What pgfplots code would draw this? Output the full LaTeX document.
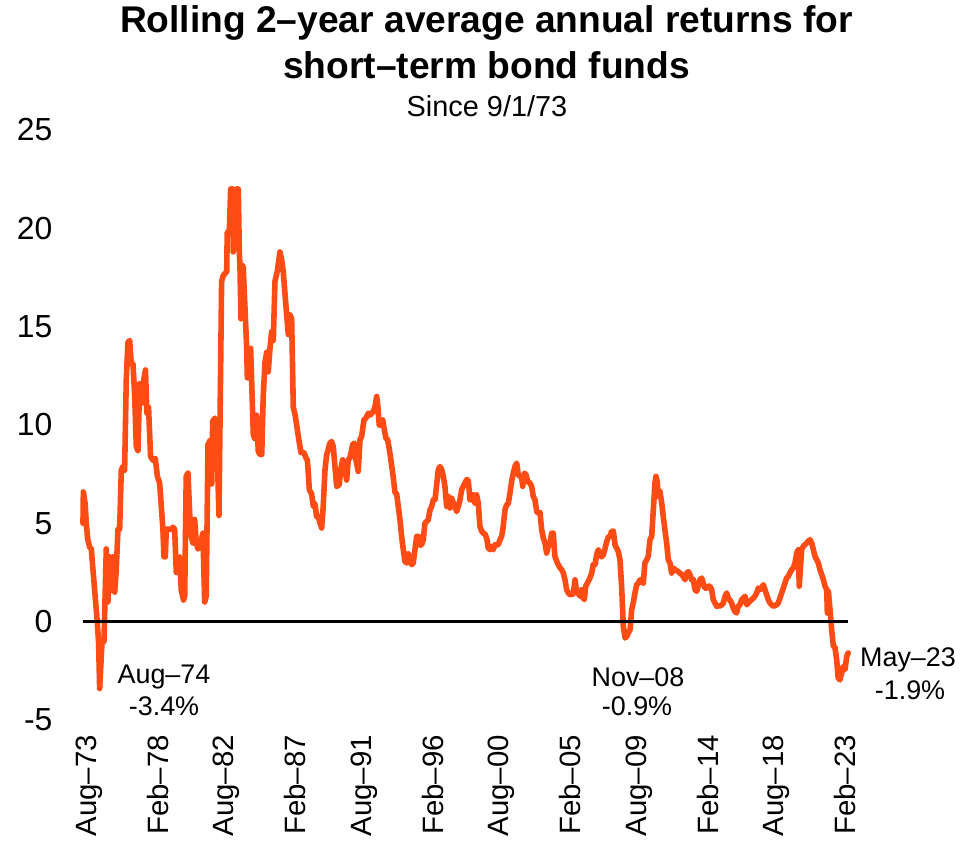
\documentclass[border=0pt]{standalone}
\usepackage{fontspec}
\setmainfont{Liberation Sans}
\usepackage{pgfplots}
\pgfplotsset{compat=1.18}
\definecolor{br}{RGB}{255,75,20}
\begin{document}
\begin{tikzpicture}
\begin{axis}[
 scale only axis, width=766.4bp, height=590bp,
 xmin=-5, xmax=597, ymin=-5, ymax=25,
 axis line style={draw=none}, major tick length=0pt,
 xtick={0,54,108,162,216,270,324,378,432,486,540,594},
 xticklabels={Aug--73,Feb--78,Aug--82,Feb--87,Aug--91,Feb--96,Aug--00,Feb--05,Aug--09,Feb--14,Aug--18,Feb--23},
 ytick={-5,0,5,10,15,20,25}, yticklabels={-5,0,5,10,15,20,25},
 xticklabel style={rotate=90, anchor=east, inner sep=0pt, font=\fontsize{29.5}{32}\selectfont},
 yticklabel style={anchor=east, inner sep=0pt, font=\fontsize{32}{34}\selectfont},
 xticklabel shift=15bp, yticklabel shift=30bp,
 clip=false,
]
\addplot[br, line width=5.6bp, line join=round, line cap=round] coordinates {
(-4.7,5.0) (-4.4,6.6) (-3.0,6.0) (-2.1,5.0) (-1.0,4.2) (0.5,3.8) (1.8,3.7) (6.5,0.0) (7.6,-1.1) (8.4,-3.4) (10.2,-1.1) (11.8,-1.0) (13.6,3.7) (14.9,1.0) (16.3,3.3) (17.5,1.6) (18.9,3.3) (20.2,1.5) (21.4,2.6) (22.8,4.7) (24.1,4.7) (25.4,7.7) (26.7,7.9) (28.0,7.7) (29.3,12.3) (30.6,14.2) (32.0,14.3) (33.2,13.1) (34.6,13.1) (35.9,11.5) (37.2,8.9) (38.5,8.7) (39.8,12.1) (41.1,11.1) (42.4,12.0) (43.8,12.6) (44.4,12.8) (45.5,10.6) (46.8,10.9) (48.4,8.4) (50.3,8.2) (52.1,8.3) (53.7,7.4) (55.5,7.05) (56.8,5.9) (58.1,4.7) (58.9,3.3) (60.0,3.3) (60.7,4.7) (64.6,4.7) (66.0,4.8) (67.3,4.7) (68.6,2.5) (69.9,3.2) (71.2,3.3) (72.5,1.6) (74.3,1.1) (75.2,1.3) (76.4,7.4) (77.8,7.55) (79.1,5.5) (80.4,4.3) (81.7,4.0) (83.0,5.2) (84.3,4.0) (85.6,3.7) (87.0,3.8) (89.5,4.5) (90.9,1.0) (92.1,1.3) (93.5,9.0)
(95.0,9.2) (96.4,7.0) (97.2,10.2) (99.0,10.35) (100.3,9.9) (101.6,6.6) (102.1,5.4) (104.2,17.3) (105.5,17.6) (108.2,17.8) (108.6,19.8) (110.2,19.7) (111.3,22.0) (112.9,22.0) (113.3,18.8) (114.5,19.3) (116.0,22.0) (117.3,22.0) (118.1,18.8) (118.6,18.1) (119.4,15.4) (120.7,18.1) (121.2,18.0) (123.9,13.9) (124.4,12.4) (125.7,12.4) (127.0,13.9) (129.1,9.5) (130.4,9.3) (131.7,10.5) (133.0,8.65) (134.3,8.5) (135.7,8.5) (136.9,11.5) (138.3,13.2) (139.6,13.7) (140.8,12.7) (142.2,13.9) (143.5,14.75) (144.8,14.3) (146.1,17.3) (147.9,17.8) (150.0,18.8) (151.4,18.4) (152.6,17.8) (155.3,15.6) (156.6,14.6) (157.9,15.6) (159.2,15.4) (160.5,10.9) (162.0,10.5) (164.5,9.4) (166.5,8.6) (168.9,8.6)
(170.5,8.32) (171.5,8.23) (172.3,7.55) (173.1,6.7) (174.9,6.5) (176.2,5.86) (177.5,6.0) (178.8,5.35) (180.1,5.35) (181.5,5.01) (182.8,4.76) (184.0,5.86) (185.4,7.72) (186.7,8.48) (189.3,9.08) (190.6,9.16) (191.9,8.9) (193.2,7.89) (194.6,6.88) (196.6,6.96) (197.7,7.72) (199.3,8.23) (201.1,7.72) (202.4,7.2) (203.7,8.23) (205.0,8.32) (207.1,9.0) (208.4,9.08) (209.7,8.23) (211.5,7.64) (212.9,9.25) (214.2,9.42) (216.0,10.26) (217.6,10.35) (219.4,10.6) (220.7,10.5) (223.3,10.68) (224.7,10.94) (226.0,11.45) (227.0,10.9) (228.0,10.0) (229.4,10.0) (230.7,10.26) (232.0,9.75) (233.3,9.33) (234.6,9.25) (236.4,8.57) (238.6,7.55) (240.4,6.57) (241.7,6.5) (244.3,5.18) (245.6,4.34) (246.9,3.66) (248.2,3.07) (249.6,2.98) (250.8,3.45) (252.1,3.07) (253.5,2.9) (254.7,2.98) (257.4,4.34) (258.7,4.34) (260.0,3.9) (261.3,3.9) (262.6,4.16) (263.9,5.01) (266.5,5.18) (267.9,5.69) (269.2,5.86) (270.5,6.2) (271.8,6.2) (274.4,7.72) (275.7,7.89) (277.1,7.72) (278.3,7.4)
(279.6,6.88) (281.0,5.86) (282.2,6.37) (283.6,5.78) (284.9,6.28) (286.2,6.03) (287.5,5.86) (288.8,5.6) (290.1,5.86) (291.4,6.2) (292.8,6.71) (294.0,6.88) (295.3,7.05) (296.7,7.22) (297.9,7.2) (299.3,6.2) (300.6,6.2) (301.9,6.45) (303.2,6.03) (304.5,6.45) (305.8,6.03) (307.1,4.84) (308.5,4.6) (309.7,4.5) (311.1,4.45) (312.4,4.25) (313.6,3.75) (315.0,3.66) (316.3,3.83) (317.6,3.66) (318.9,3.91) (320.2,3.9) (321.5,3.91) (322.8,4.17) (324.2,4.34) (325.4,4.84) (326.8,5.69) (328.1,5.94) (329.4,6.0) (330.7,6.54) (332.0,7.13) (333.3,7.55) (334.6,7.89) (336.0,8.06) (337.2,7.47) (338.6,7.38) (339.8,7.4) (340.7,6.88) (342.0,7.55) (343.3,7.47) (344.6,7.13) (346.4,7.05) (347.7,6.88) (349.0,6.37) (350.3,6.2) (351.7,5.6) (352.9,5.52) (354.3,5.55) (355.6,4.67) (356.9,4.25) (358.2,4.0) (359.5,3.49) (360.8,3.83) (362.1,4.0) (363.5,4.5) (364.7,4.5) (366.0,3.32) (367.4,3.07) (368.6,2.9) (370.0,2.74) (371.3,2.64) (372.6,2.47) (373.9,2.13) (375.2,1.63) (376.5,1.46) (377.8,1.37) (380.4,1.4) (381.8,2.13) (383.1,1.46) (384.4,1.46) (385.7,1.29) (387.0,1.63) (388.3,1.2) (389.1,1.12) (390.2,1.8) (392.2,2.05) (393.5,2.22) (394.9,2.47) (396.1,2.9) (397.5,2.9) (398.8,3.4) (400.1,3.66) (401.4,3.4) (402.7,3.3) (404.0,3.4) (405.3,3.7) (406.6,4.05) (407.9,4.3)
(409.3,4.34) (410.6,4.6) (411.9,4.6) (413.2,3.91) (414.5,3.74) (415.8,3.57) (417.1,3.15) (418.4,1.8) (419.2,0.61) (419.7,-0.24) (421.1,-0.83) (422.4,-0.75) (423.6,-0.58) (425.0,-0.41) (426.3,0.61) (427.5,0.95) (428.9,1.46) (430.2,1.88) (431.5,1.96) (432.8,2.13) (434.1,2.13) (435.4,1.96) (436.7,2.98) (438.1,3.15) (439.3,3.32) (440.7,4.17) (442.0,4.34) (443.3,5.69) (444.6,7.05) (445.4,7.39) (446.4,7.1) (447.2,6.37) (448.5,6.62) (449.9,6.03) (451.1,5.35) (452.4,4.67) (453.8,3.99) (455.0,3.15) (456.4,2.98) (457.7,2.47) (459.0,2.73) (460.3,2.64) (461.6,2.6) (462.9,2.54) (464.2,2.47) (465.6,2.39) (466.8,2.3) (468.2,2.13) (469.5,2.47) (470.8,2.54) (472.1,2.39) (473.4,2.13) (474.7,2.15) (476.0,1.63) (477.3,1.54) (478.6,1.8) (479.9,2.13) (481.3,2.22) (482.5,1.96) (483.8,1.71) (485.2,1.7) (486.4,1.8) (487.8,1.8) (489.1,1.63) (490.4,1.12) (491.7,0.95) (493.1,0.78) (494.3,0.8) (495.6,0.8) (497.0,0.85) (498.3,0.95) (499.6,1.29) (500.9,1.46) (502.2,1.2) (503.4,1.1) (504.8,0.95) (506.1,0.69) (507.4,0.52) (508.7,0.44)
(510.0,0.78) (511.4,0.86) (512.7,1.12) (514.0,1.2) (515.3,1.29) (516.7,0.86) (517.9,0.95) (519.2,1.04) (520.6,1.12) (521.8,1.2) (523.1,1.29) (524.5,1.46) (525.8,1.71) (527.1,1.63) (528.4,1.71) (529.7,1.88) (531.0,1.63) (532.3,1.37) (533.6,1.12) (534.9,0.95) (537.5,0.78) (540.2,0.86) (541.4,0.95) (542.8,1.2) (544.1,1.46) (545.4,1.71) (546.7,1.96) (548.0,2.22) (549.3,2.3) (550.6,2.47) (551.9,2.64) (553.2,2.73) (554.6,2.98) (555.9,3.49) (557.2,3.66) (557.9,1.8) (559.8,3.66) (561.1,3.83) (562.4,3.91) (565.0,4.08) (566.4,4.17) (567.7,4.0) (569.0,3.66) (570.3,3.32) (571.6,3.15) (572.9,2.98) (574.2,2.64) (575.6,2.39) (576.9,2.13) (578.2,1.8) (579.5,1.63) (580.0,0.44) (580.8,1.54) (582.1,0.61) (583.4,-0.41) (584.7,-1.25) (586.0,-1.3) (587.3,-1.93) (588.5,-2.86) (589.9,-2.96) (591.2,-2.61) (592.5,-2.27) (593.9,-2.44) (595.2,-1.76) (596.4,-1.59)
};
\addplot[black, line width=3bp] coordinates {(-5,0) (596.4,0)};
\end{axis}
\node[font=\fontsize{37.3}{40}\selectfont\bfseries] at (404bp,697bp) {Rolling 2--year average annual returns for};
\node[font=\fontsize{37.3}{40}\selectfont\bfseries] at (404bp,655bp) {short--term bond funds};
\node[font=\fontsize{29}{32}\selectfont] at (404.4bp,614bp) {Since 9/1/73};
\begin{scope}[every node/.style={font=\fontsize{27}{30}\selectfont}]
\node at (81.4bp,43bp) {Aug--74};
\node at (81.4bp,14bp) {-3.4\%};
\node at (555.4bp,43bp) {Nov--08};
\node at (554.4bp,14bp) {-0.9\%};
\node at (825.4bp,60bp) {May--23};
\node at (827.4bp,30bp) {-1.9\%};
\end{scope}
\pgfresetboundingbox
\path[use as bounding box] (-82.6bp,-138bp) rectangle (881.4bp,720bp);
\end{tikzpicture}
\end{document}
